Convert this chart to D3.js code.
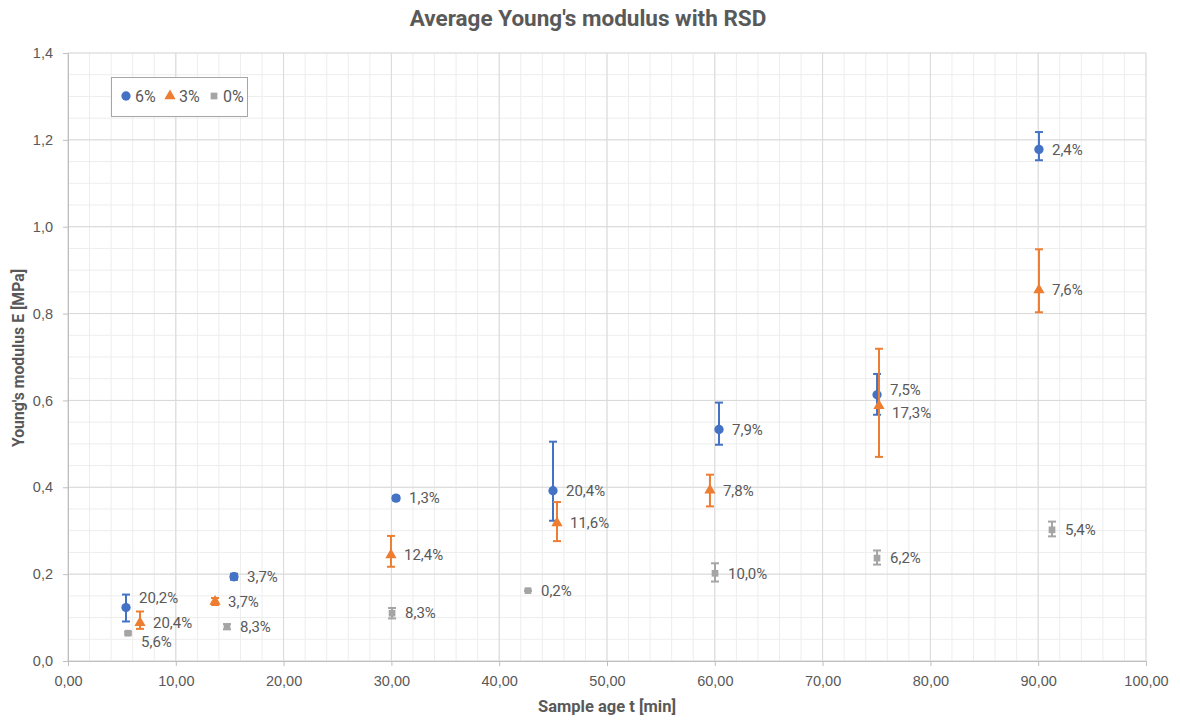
<!DOCTYPE html>
<html>
<head>
<meta charset="utf-8">
<script src="https://cdn.jsdelivr.net/npm/d3@7"></script>
<style>
	body { margin: 0; background: #fff; }
	svg { display: block; font-family: Roboto, "Liberation Sans", sans-serif; }
</style>
</head>
<body>
<script>
const seriesNames = ["6%", "3%", "0%"];

const ageBlue = [5.38, 15.4, 30.43, 44.99, 60.39, 75.05, 90.07];
const eBlue = [0.123, 0.194, 0.375, 0.392, 0.533, 0.613, 1.178];
const upBlue = [0.030, 0.007, 0.005, 0.113, 0.062, 0.048, 0.040];
const downBlue = [0.032, 0.007, 0.005, 0.069, 0.035, 0.046, 0.025];
const rsdBlue = [20.2, 3.7, 1.3, 20.4, 7.9, 7.5, 2.4];

const ageOrange = [6.68, 13.64, 29.96, 45.36, 59.55, 75.23, 90.07];
const eOrange = [0.088, 0.137, 0.244, 0.318, 0.393, 0.588, 0.854];
const upOrange = [0.026, 0.008, 0.044, 0.048, 0.036, 0.131, 0.094];
const downOrange = [0.014, 0.008, 0.027, 0.042, 0.037, 0.118, 0.051];
const rsdOrange = [20.4, 3.7, 12.4, 11.6, 7.8, 17.3, 7.6];

const ageGrey = [5.57, 14.75, 30.06, 42.67, 60.02, 75.05, 91.28];
const eGrey = [0.064, 0.079, 0.110, 0.162, 0.202, 0.237, 0.302];
const upGrey = [0.003, 0.006, 0.012, 0.0003, 0.023, 0.0175, 0.019];
const downGrey = [0.003, 0.006, 0.012, 0.0003, 0.019, 0.015, 0.015];
const rsdGrey = [5.6, 8.3, 8.3, 0.2, 10.0, 6.2, 5.4];

const xTicks = [0, 10, 20, 30, 40, 50, 60, 70, 80, 90, 100];
const yTicks = [0, 0.2, 0.4, 0.6, 0.8, 1.0, 1.2, 1.4];

// label nudges (px), same order as points
const labelDy = [[-10, 0, 0, 0, 0, -5, 0], [0, 0, 0, 0, 0, 7, 0], [9, 0, 0, 0, 0, 0, 0]];

const w = 1180;
const h = 720;
const plotLeft = 68, plotRight = 1146, plotTop = 53, plotBottom = 661;
const textCol = "#595959";

const series = [
	{ name: seriesNames[0], color: "#4472C4", shape: d3.symbolCircle, size: 68, x: ageBlue, y: eBlue, up: upBlue, down: downBlue, rsd: rsdBlue },
	{ name: seriesNames[1], color: "#ED7D31", shape: d3.symbolTriangle, size: 55, x: ageOrange, y: eOrange, up: upOrange, down: downOrange, rsd: rsdOrange },
	{ name: seriesNames[2], color: "#A5A5A5", shape: d3.symbolSquare, size: 45, x: ageGrey, y: eGrey, up: upGrey, down: downGrey, rsd: rsdGrey }
];

const svg = d3.select("body")
				.append("svg")
				.attr("width", w)
				.attr("height", h);

const xScale = d3.scaleLinear().domain([0, 100]).range([plotLeft, plotRight]);
const yScale = d3.scaleLinear().domain([0, 1.4]).range([plotBottom, plotTop]);

const grid = svg.append("g");
grid.selectAll(".xminor").data(d3.range(0, 101, 2)).enter().append("line")
	.attr("x1", d => xScale(d)).attr("x2", d => xScale(d))
	.attr("y1", plotTop).attr("y2", plotBottom)
	.attr("stroke", "#ededed");
grid.selectAll(".yminor").data(d3.range(0, 1.401, 0.05)).enter().append("line")
	.attr("x1", plotLeft).attr("x2", plotRight)
	.attr("y1", d => yScale(d)).attr("y2", d => yScale(d))
	.attr("stroke", "#ededed");
grid.selectAll(".xmajor").data(xTicks).enter().append("line")
	.attr("x1", d => xScale(d)).attr("x2", d => xScale(d))
	.attr("y1", plotTop).attr("y2", plotBottom)
	.attr("stroke", "#d9d9d9");
grid.selectAll(".ymajor").data(yTicks).enter().append("line")
	.attr("x1", plotLeft).attr("x2", plotRight)
	.attr("y1", d => yScale(d)).attr("y2", d => yScale(d))
	.attr("stroke", "#d9d9d9");

const comma = d3.formatLocale({ decimal: ",", thousands: ".", grouping: [3], currency: ["", ""] });

const xAxis = d3.axisBottom(xScale).tickValues(xTicks).tickSize(5).tickPadding(10).tickFormat(comma.format(".2f"));
const yAxis = d3.axisLeft(yScale).tickValues(yTicks).tickSize(5).tickPadding(10).tickFormat(comma.format(".1f"));

const gx = svg.append("g").attr("transform", "translate(0," + plotBottom + ")").call(xAxis);
const gy = svg.append("g").attr("transform", "translate(" + plotLeft + ",0)").call(yAxis);
[gx, gy].forEach(g => {
	g.select(".domain").attr("stroke", "#bfbfbf");
	g.selectAll(".tick line").attr("stroke", "#bfbfbf");
	g.selectAll(".tick text").attr("fill", textCol).style("font-size", "14.5px");
});

series.forEach((s, si) => {
	const pts = s.x.map((x, i) => ({ x: x, y: s.y[i], up: s.up[i], down: s.down[i], rsd: s.rsd[i], dy: labelDy[si][i] }));
	const g = svg.append("g");

	const bars = g.selectAll(".err").data(pts).enter().append("g");
	bars.append("line")
		.attr("x1", d => xScale(d.x)).attr("x2", d => xScale(d.x))
		.attr("y1", d => yScale(d.y + d.up)).attr("y2", d => yScale(d.y - d.down));
	bars.append("line")
		.attr("x1", d => xScale(d.x) - 4).attr("x2", d => xScale(d.x) + 4)
		.attr("y1", d => yScale(d.y + d.up)).attr("y2", d => yScale(d.y + d.up));
	bars.append("line")
		.attr("x1", d => xScale(d.x) - 4).attr("x2", d => xScale(d.x) + 4)
		.attr("y1", d => yScale(d.y - d.down)).attr("y2", d => yScale(d.y - d.down));
	bars.selectAll("line").attr("stroke", s.color).attr("stroke-width", 2);

	g.selectAll("path.mark").data(pts).enter().append("path")
		.attr("class", "mark")
		.attr("d", d3.symbol().type(s.shape).size(s.size))
		.attr("transform", d => "translate(" + xScale(d.x) + "," + yScale(d.y) + ")")
		.attr("fill", s.color);

	g.selectAll("text").data(pts).enter().append("text")
		.attr("x", d => xScale(d.x) + 13)
		.attr("y", d => yScale(d.y) + d.dy)
		.attr("dy", "0.35em")
		.attr("fill", textCol)
		.style("font-size", "15px")
		.text(d => comma.format(".1f")(d.rsd) + "%");
});

svg.append("text")
	.attr("x", 588).attr("y", 26)
	.attr("text-anchor", "middle")
	.attr("fill", textCol)
	.style("font-size", "22.5px").style("font-weight", "bold")
	.text("Average Young's modulus with RSD");

svg.append("text")
	.attr("x", 607).attr("y", 712)
	.attr("text-anchor", "middle")
	.attr("fill", textCol)
	.style("font-size", "16.5px").style("font-weight", "bold")
	.text("Sample age t [min]");

svg.append("text")
	.attr("transform", "translate(24,358) rotate(-90)")
	.attr("text-anchor", "middle")
	.attr("fill", textCol)
	.style("font-size", "15.8px").style("font-weight", "bold")
	.text("Young's modulus E [MPa]");

const legend = svg.append("g");
legend.append("rect")
	.attr("x", 111.5).attr("y", 77.5).attr("width", 136).attr("height", 39)
	.attr("fill", "#fff").attr("stroke", "#a6a6a6");
const legendX = [126, 170, 214];
series.forEach((s, i) => {
	legend.append("path")
		.attr("d", d3.symbol().type(s.shape).size(s.size))
		.attr("transform", "translate(" + legendX[i] + ",96)")
		.attr("fill", s.color);
	legend.append("text")
		.attr("x", legendX[i] + 9).attr("y", 96).attr("dy", "0.35em")
		.attr("fill", textCol)
		.style("font-size", "16px")
		.text(s.name);
});
</script>
</body>
</html>
